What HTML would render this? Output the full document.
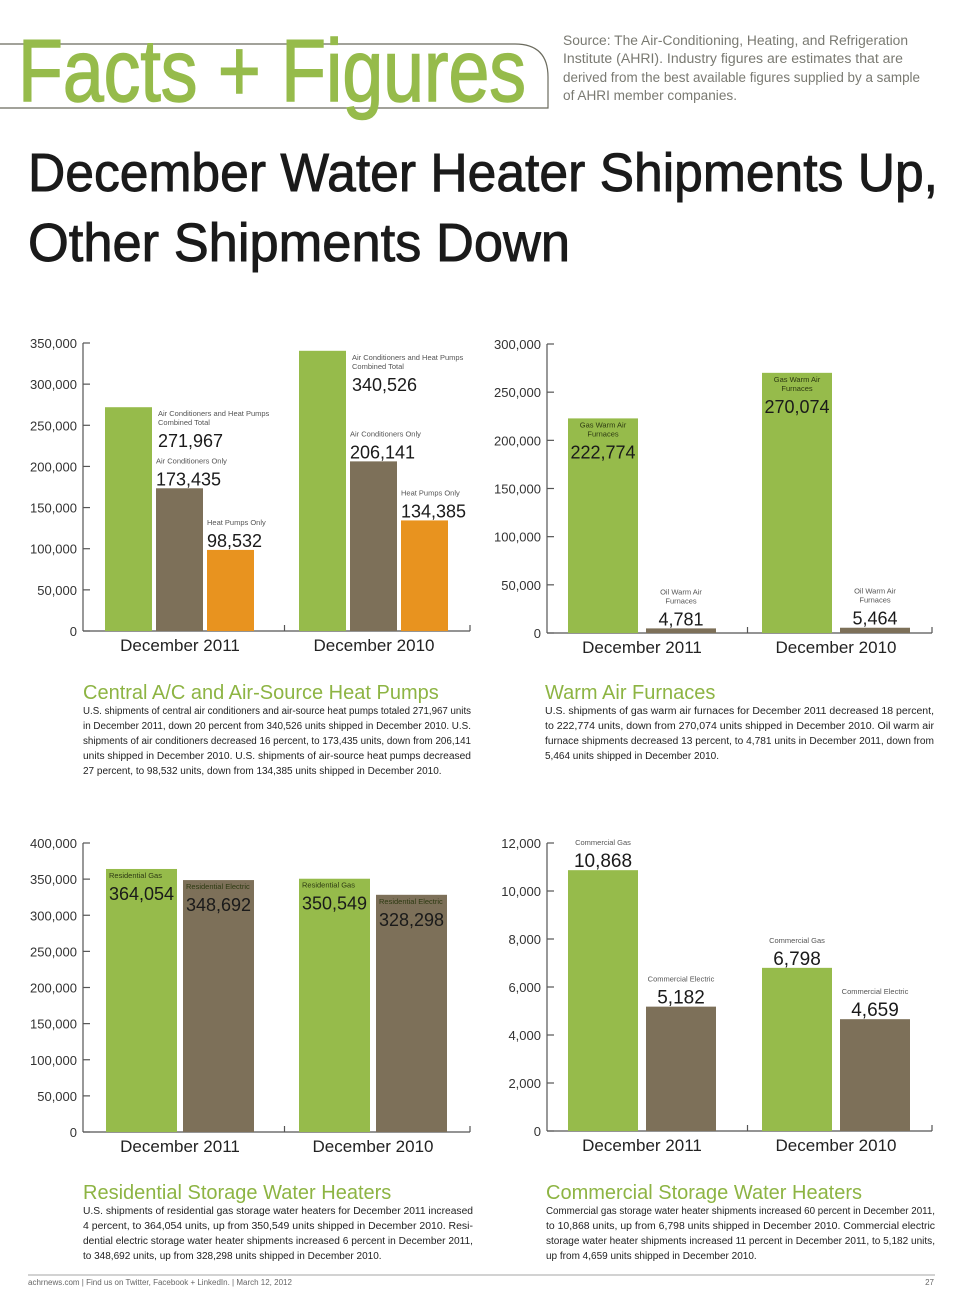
<!DOCTYPE html>
<html><head><meta charset="utf-8">
<style>
html,body{margin:0;padding:0;background:#fff;}
svg{display:block;font-family:"Liberation Sans",sans-serif;}
</style></head>
<body>
<svg id="page" width="960" height="1303" viewBox="0 0 960 1303" xmlns="http://www.w3.org/2000/svg">
<g>
  <path d="M0 44 H515 Q548 44 548 77 V108 H0" fill="none" stroke="#6b6b5e" stroke-width="1.2"/>
  <text x="18" y="101" font-size="88" fill="#96bb4b" stroke="#96bb4b" stroke-width="1.5" textLength="508" lengthAdjust="spacingAndGlyphs">Facts + Figures</text>
  <g font-size="13.5" fill="#7a7a72">
    <text x="563" y="45" textLength="345" lengthAdjust="spacingAndGlyphs">Source: The Air-Conditioning, Heating, and Refrigeration</text>
    <text x="563" y="63" textLength="340" lengthAdjust="spacingAndGlyphs">Institute (AHRI). Industry figures are estimates that are</text>
    <text x="563" y="82" textLength="357" lengthAdjust="spacingAndGlyphs">derived from the best available figures supplied by a sample</text>
    <text x="563" y="100" textLength="174" lengthAdjust="spacingAndGlyphs">of AHRI member companies.</text>
  </g>
</g>
<text x="28" y="191" font-size="54" fill="#1a1a1a" stroke="#1a1a1a" stroke-width="0.9" textLength="910" lengthAdjust="spacingAndGlyphs">December Water Heater Shipments Up,</text>
<text x="28" y="261" font-size="54" fill="#1a1a1a" stroke="#1a1a1a" stroke-width="0.9" textLength="542" lengthAdjust="spacingAndGlyphs">Other Shipments Down</text>
<g id="charts"></g>
<g id="texts"></g>
<g>
  <line x1="28" y1="1275" x2="935" y2="1275" stroke="#888" stroke-width="0.8"/>
  <text x="28" y="1285" font-size="8" fill="#666">achrnews.com  |  Find us on Twitter, Facebook + LinkedIn.  |  March 12, 2012</text>
  <text x="934" y="1285" font-size="8" fill="#666" text-anchor="end">27</text>
</g>
</svg>
<script>
const NS="http://www.w3.org/2000/svg";
const GREEN="#96bb4b",BROWN="#7d7059",ORANGE="#e8931f";
// Chart 1: Central A/C
const c1Categories=["December 2011","December 2010"];
const c1Combined=[271967,340526];
const c1AC=[173435,206141];
const c1HP=[98532,134385];
const c1Ticks=[0,50000,100000,150000,200000,250000,300000,350000];
// Chart 2: Furnaces
const c2Categories=["December 2011","December 2010"];
const c2Gas=[222774,270074];
const c2Oil=[4781,5464];
const c2Ticks=[0,50000,100000,150000,200000,250000,300000];
// Chart 3: Residential
const c3Categories=["December 2011","December 2010"];
const c3Gas=[364054,350549];
const c3Elec=[348692,328298];
const c3Ticks=[0,50000,100000,150000,200000,250000,300000,350000,400000];
// Chart 4: Commercial
const c4Categories=["December 2011","December 2010"];
const c4Gas=[10868,6798];
const c4Elec=[5182,4659];
const c4Ticks=[0,2000,4000,6000,8000,10000,12000];

const root=document.getElementById('charts');
function el(tag,attrs,parent,txt){const e=document.createElementNS(NS,tag);for(const k in attrs)e.setAttribute(k,attrs[k]);if(txt!==undefined)e.textContent=txt;(parent||root).appendChild(e);return e;}
function fmt(v){return v.toLocaleString('en-US');}

function chart(cfg){
  const g=el('g',{});
  
  
  const max=cfg.ticks[cfg.ticks.length-1];
  const y=v=>cfg.base-v/max*(cfg.base-cfg.top);
  const ax=el('g',{stroke:'#555','stroke-width':1.2},g);
  
  
  el('line',{x1:cfg.ax,y1:cfg.top,x2:cfg.ax,y2:cfg.base},ax);
  el('line',{x1:cfg.ax,y1:cfg.base,x2:cfg.xend,y2:cfg.base},ax);
  el('line',{x1:(cfg.ax+cfg.xend)/2+8,y1:cfg.base,x2:(cfg.ax+cfg.xend)/2+8,y2:cfg.base-6},ax);
  el('line',{x1:cfg.xend,y1:cfg.base,x2:cfg.xend,y2:cfg.base-6},ax);
  cfg.ticks.forEach(t=>{
    el('line',{x1:cfg.ax,y1:y(t),x2:cfg.ax+7,y2:y(t)},ax);
    const tl=el('text',{x:cfg.ax-6,y:y(t)+5,'font-size':13,fill:'#333','text-anchor':'end',stroke:'none'},g,fmt(t));
    
    
  });
  cfg.categories.forEach((c,ci)=>{
    const gx=cfg.groupX[ci];
    const cl=el('text',{x:gx+cfg.groupW/2,y:cfg.base+20,'font-size':17,fill:'#222','text-anchor':'middle'},g,c);
    
    
    cfg.series.forEach((s,si)=>{
      const bx=gx+si*(cfg.bw+cfg.gap), v=s.values[ci], top=y(v);
      const r=el('rect',{x:bx,y:top,width:cfg.bw,height:cfg.base-top,fill:s.color},g);
      
      
      let mode=s.mode, lx,ly,anchor='start',lines=s.label;
      if(mode==='right'){lx=bx+cfg.bw+6;ly=top+9;}
      else if(mode==='aboveLeft'){lx=bx;ly=top-5-(lines.length)*9-11;}
      else if(mode==='inside'){lx=bx+cfg.bw/2;ly=top+9;anchor='middle';}
      else if(mode==='aboveCenter'){lx=bx+cfg.bw/2;ly=top-5-(lines.length)*9-11;anchor='middle';}
      else if(mode==='insideLeft'){lx=bx+3;ly=top+9;}
      const inside=(mode==='inside'||mode==='insideLeft');
      lines.forEach((ln,li)=>{
        const t=el('text',{x:lx,y:ly+li*9,'font-size':7.5,fill:inside?'#2d3a12':'#555','text-anchor':anchor},g,ln);
        
        
      });
      const na={x:lx,y:ly+(lines.length-1)*9+22,'font-size':cfg.numSize,fill:'#1a1a1a','text-anchor':anchor};
      if(mode==='insideLeft'){na.textLength=cfg.bw-6;na.lengthAdjust='spacingAndGlyphs';}
      const nt=el('text',na,g,fmt(v));
      
      
    });
  });
}

chart({name:'central-ac-chart',ax:83,xend:470,top:343,base:631,ticks:c1Ticks,categories:c1Categories,groupX:[105,299],groupW:150,bw:47,gap:4,numSize:18,
  series:[{key:'combined',values:c1Combined,color:GREEN,mode:'right',label:['Air Conditioners and Heat Pumps','Combined Total']},
          {key:'ac',values:c1AC,color:BROWN,mode:'aboveLeft',label:['Air Conditioners Only']},
          {key:'hp',values:c1HP,color:ORANGE,mode:'aboveLeft',label:['Heat Pumps Only']}]});
chart({name:'furnaces-chart',ax:547,xend:932,top:344,base:633,ticks:c2Ticks,categories:c2Categories,groupX:[568,762],groupW:148,bw:70,gap:8,numSize:18,
  series:[{key:'gas',values:c2Gas,color:GREEN,mode:'inside',label:['Gas Warm Air','Furnaces']},
          {key:'oil',values:c2Oil,color:BROWN,mode:'aboveCenter',label:['Oil Warm Air','Furnaces']}]});
chart({name:'residential-chart',ax:83,xend:470,top:843,base:1132,ticks:c3Ticks,categories:c3Categories,groupX:[106,299],groupW:148,bw:71,gap:6,numSize:18,
  series:[{key:'gas',values:c3Gas,color:GREEN,mode:'insideLeft',label:['Residential Gas']},
          {key:'elec',values:c3Elec,color:BROWN,mode:'insideLeft',label:['Residential Electric']}]});
chart({name:'commercial-chart',ax:547,xend:932,top:843,base:1131,ticks:c4Ticks,categories:c4Categories,groupX:[568,762],groupW:148,bw:70,gap:8,numSize:19,
  series:[{key:'gas',values:c4Gas,color:GREEN,mode:'aboveCenter',label:['Commercial Gas']},
          {key:'elec',values:c4Elec,color:BROWN,mode:'aboveCenter',label:['Commercial Electric']}]});

const tg=document.getElementById('texts');
function block(name,title,x,ty,w,lines){
  const g=el('g',{},tg);
  
  
  el('text',{x:x,y:ty,'font-size':20,fill:'#8db443'},g,title);
  lines.forEach((l,i)=>{
    const a={x:x,y:ty+15+i*15,'font-size':10,fill:'#222'};
    if(i<lines.length-1){a.textLength=w;a.lengthAdjust='spacingAndGlyphs';}
    el('text',a,g,l);
  });
}
block('central-ac-section','Central A/C and Air-Source Heat Pumps',83,699,388,[
"U.S. shipments of central air conditioners and air-source heat pumps totaled 271,967 units",
"in December 2011, down 20 percent from 340,526 units shipped in December 2010. U.S.",
"shipments of air conditioners decreased 16 percent, to 173,435 units, down from 206,141",
"units shipped in December 2010. U.S. shipments of air-source heat pumps decreased",
"27 percent, to 98,532 units, down from 134,385 units shipped in December 2010."]);
block('furnaces-section','Warm Air Furnaces',545,699,389,[
"U.S. shipments of gas warm air furnaces for December 2011 decreased 18 percent,",
"to 222,774 units, down from 270,074 units shipped in December 2010. Oil warm air",
"furnace shipments decreased 13 percent, to 4,781 units in December 2011, down from",
"5,464 units shipped in December 2010."]);
block('residential-section','Residential Storage Water Heaters',83,1199,390,[
"U.S. shipments of residential gas storage water heaters for December 2011 increased",
"4 percent, to 364,054 units, up from 350,549 units shipped in December 2010. Resi-",
"dential electric storage water heater shipments increased 6 percent in December 2011,",
"to 348,692 units, up from 328,298 units shipped in December 2010."]);
block('commercial-section','Commercial Storage Water Heaters',546,1199,389,[
"Commercial gas storage water heater shipments increased 60 percent in December 2011,",
"to 10,868 units, up from 6,798 units shipped in December 2010. Commercial electric",
"storage water heater shipments increased 11 percent in December 2011, to 5,182 units,",
"up from 4,659 units shipped in December 2010."]);
</script>
</body></html>
